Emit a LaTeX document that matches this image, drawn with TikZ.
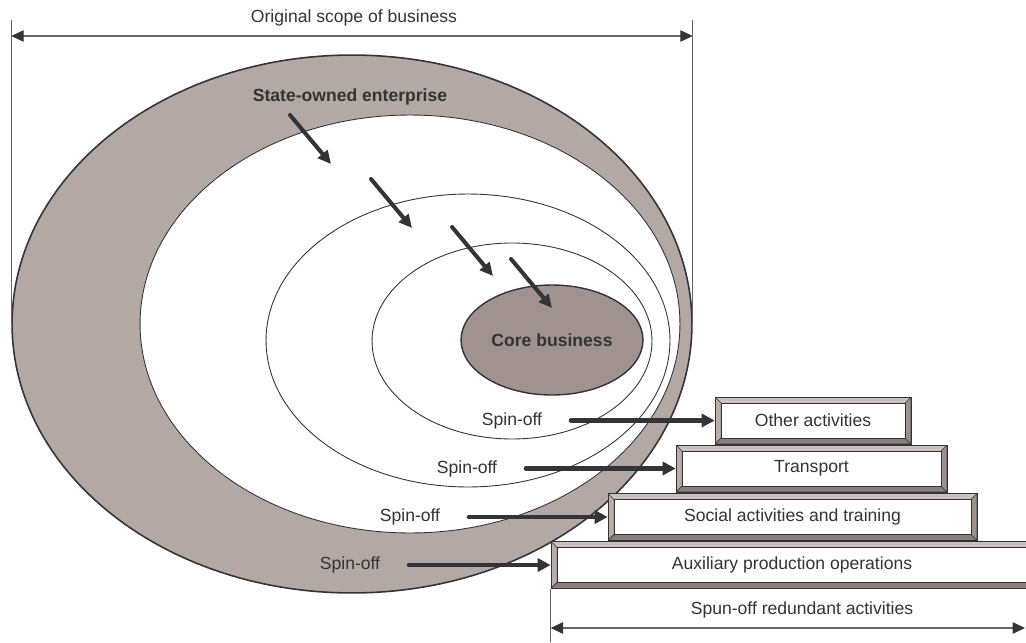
\documentclass[tikz,border=0pt]{standalone}
\usepackage{fontspec}
\setmainfont{Liberation Sans}
\usetikzlibrary{arrows.meta, positioning, shapes.geometric}

\definecolor{ringgray}{HTML}{B3A8A4}
\definecolor{coregray}{HTML}{A0938F}
\definecolor{linedark}{HTML}{333338}
\definecolor{textdark}{HTML}{333333}
\definecolor{dimgray}{HTML}{666666}
\definecolor{beveltop}{HTML}{CAC2BF}
\definecolor{bevelleft}{HTML}{B8AFAB}
\definecolor{bevelbottom}{HTML}{8A7F7B}
\definecolor{bevelright}{HTML}{9C918D}

\begin{document}
\begin{tikzpicture}[x=0.02cm, y=-0.02cm, text=textdark,
      layer/.style={ellipse, draw=linedark, line width=0.5pt, inner sep=0pt},
      bevelbox/.style={rectangle, draw=linedark, line width=0.4pt, fill=beveltop, inner sep=0pt,
        minimum height=0.94cm,
        path picture={
          \path (path picture bounding box.south west) coordinate (bsw)
                (path picture bounding box.north east) coordinate (bne);
          \path ([shift={(0.12cm,0.12cm)}]bsw) coordinate (isw)
                ([shift={(-0.12cm,-0.12cm)}]bne) coordinate (ine);
          \filldraw[draw=linedark, line width=0.3pt, fill=bevelleft] (bsw) -- (bsw|-bne) -- (isw|-ine) -- (isw) -- cycle;
          \filldraw[draw=linedark, line width=0.3pt, fill=bevelbottom] (bsw) -- (bne|-bsw) -- (ine|-isw) -- (isw) -- cycle;
          \filldraw[draw=linedark, line width=0.3pt, fill=bevelright] (bne|-bsw) -- (bne) -- (ine) -- (ine|-isw) -- cycle;
          \filldraw[draw=linedark, line width=0.3pt, fill=white] (isw) rectangle (ine);
        }},
      spin/.style={inner sep=3pt},
      inward/.style={draw=linedark, line width=2.3pt, line cap=round, -{Triangle[length=7.5pt, width=7pt]}},
      spinarrow/.style={draw=linedark, line width=2.3pt, line cap=round, shorten <=0.46cm, -{Triangle[length=7.5pt, width=7.5pt]}},
      dimline/.style={draw=dimgray, line width=0.6pt},
      dimarrow/.style={draw=dimgray, line width=0.6pt,
        {Triangle[length=7pt, width=6.5pt, color=linedark]}-{Triangle[length=7pt, width=6.5pt, color=linedark]}}]

      \clip (0,0) rectangle (1026,642);

      % Nested scopes
      \node[layer, fill=ringgray, line width=0.9pt, minimum width=13.6cm, minimum height=10.76cm] (soe) at (352,324) {};
      \node[layer, fill=white, minimum width=10.8cm, minimum height=8.36cm] (ring2) at (410,324) {};
      \node[layer, fill=white, minimum width=8.08cm, minimum height=5.86cm] (ring3) at (468,340.5) {};
      \node[layer, fill=white, minimum width=5.6cm, minimum height=3.92cm] (ring4) at (512,341) {};
      \node[layer, fill=coregray, line width=0.8pt, font=\bfseries, minimum width=3.64cm, minimum height=2.2cm] (core) at (552,340) {Core business};
      \node[font=\bfseries] (soetext) at (350,97) {State-owned enterprise};

      % Shrinking arrows
      \foreach \x/\y [count=\i] in {290/115, 371/179, 452/227, 511/259}
        \draw[inward] (\x,\y) coordinate (in\i) -- ++(41,49);

      % Spun-off blocks
      \node[bevelbox, minimum width=9.64cm] (aux) at (792,565) {Auxiliary production operations};
      \node[bevelbox, minimum width=7.38cm] (social) at (792.5,517) {Social activities and training};
      \node[bevelbox, minimum width=5.42cm] (transport) at (811.5,468.5) {Transport};
      \node[bevelbox, minimum width=3.92cm] (other) at (813,420.5) {Other activities};

      % Spin-off arrows
      \node[spin] (spin1) at (350,565) {Spin-off};
      \node[spin] (spin2) at (410,517) {Spin-off};
      \node[spin] (spin3) at (467,468.5) {Spin-off};
      \node[spin] (spin4) at (512,420.5) {Spin-off};
      \draw[spinarrow] (spin1.east) -- (aux.west);
      \draw[spinarrow] (spin2.east) -- (social.west);
      \draw[spinarrow] (spin3.east) -- (transport.west);
      \draw[spinarrow] (spin4.east) -- (other.west);

      % Dimensions
      \coordinate (dimtop) at (0,20);
      \coordinate (dimrow) at (0,36);
      \draw[dimline] (soe.west |- dimtop) -- (soe.west);
      \draw[dimline] (soe.east |- dimtop) -- (soe.east);
      \draw[dimarrow] (soe.west |- dimrow) -- (soe.east |- dimrow);
      \node (scope) at (354,18) {Original scope of business};

      \coordinate (dimbot) at (0,642);
      \coordinate (dimend) at (1025,628);
      \draw[dimline] (aux.south west) -- (aux.south west |- dimbot);
      \draw[dimarrow] (aux.south west |- dimend) -- (dimend);
      \node (spun) at (802,610) {Spun-off redundant activities};
\end{tikzpicture}
\end{document}
